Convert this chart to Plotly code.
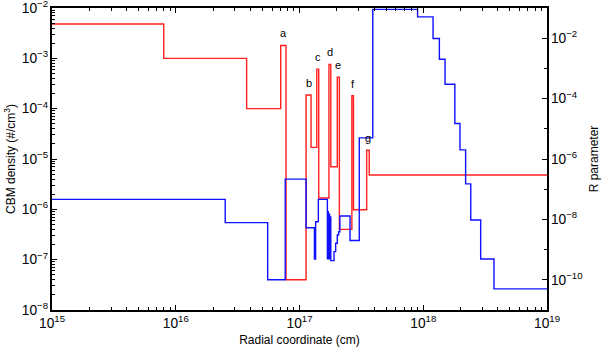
import numpy as np
import plotly.graph_objects as go

# CBM density (left axis): step edges in cm, one level per step
red_edges = [1e15, 8e15, 3.74e16, 7.05e16, 7.78e16, 1.13e17, 1.24e17, 1.38e17, 1.43e17,
             1.73e17, 1.79e17, 2.02e17, 2.10e17, 2.65e17, 2.73e17, 3.49e17, 3.66e17, 1e19]
red_levels = [4.8e-3, 1e-3, 1e-4, 1.8e-3, 4e-8, 1.87e-4, 1.7e-5, 6.1e-4, 1.68e-6,
              7.6e-4, 7.0e-6, 4.2e-4, 4.0e-7, 1.81e-4, 9.8e-7, 1.49e-5, 4.8e-6]

# R parameter (right axis)
blue_edges = [1e15, 2.51e16, 5.53e16, 7.67e16, 1.13e17, 1.32e17, 1.35e17, 1.42e17,
              1.68e17, 1.69e17, 1.71e17, 1.73e17, 1.75e17, 1.77e17, 1.79e17,
              1.90e17, 1.96e17, 2.02e17, 2.07e17, 2.12e17, 2.56e17, 3.04e17, 3.91e17,
              9.0e17, 1.2e18, 1.35e18, 1.5e18, 1.8e18, 1.98e18, 2.2e18, 2.42e18,
              2.91e18, 3.73e18, 1e19]
blue_levels = [4.6e-8, 7.8e-9, 1e-10, 2.16e-7, 5.3e-9, 4.9e-10, 8.4e-9, 4.6e-8,
               5e-10, 1.8e-8, 5e-10, 1.5e-8, 5e-10, 1.2e-8, 4.3e-10,
               8.6e-10, 1.63e-9, 3.06e-9, 3.9e-9, 1.3e-8, 2e-9, 5e-6,
               0.09, 0.051, 9.8e-3, 2e-3, 3e-4, 1.5e-5, 2e-6, 1.5e-7,
               9.6e-9, 4.9e-10, 5e-11]

# shell labels and the red step each one sits on
shell_labels = ["a", "b", "c", "d", "e", "f", "g"]
shell_steps = [3, 5, 7, 9, 11, 13, 15]

FONT = "Liberation Sans, Arial, sans-serif"

fig = go.Figure()
fig.add_trace(go.Scatter(x=red_edges, y=red_levels + [red_levels[-1]],
                         mode="lines", line=dict(color="#ff2020", width=1.4, shape="hv"),
                         showlegend=False))
fig.add_trace(go.Scatter(x=blue_edges, y=blue_levels + [blue_levels[-1]],
                         mode="lines", line=dict(color="#1010ff", width=1.4, shape="hv"),
                         yaxis="y2", showlegend=False))

for lab, i in zip(shell_labels, shell_steps):
    xm = 0.5 * (np.log10(red_edges[i]) + np.log10(red_edges[i + 1]))
    fig.add_annotation(x=xm, y=np.log10(red_levels[i]), xref="x", yref="y",
                       text=lab, showarrow=False, yanchor="bottom", yshift=4,
                       font=dict(size=11, color="black", family=FONT))

axis_common = dict(type="log", showgrid=False, zeroline=False, showline=True,
                   linecolor="black", linewidth=1.5, ticks="inside", ticklen=5,
                   tickcolor="black", tickwidth=1, exponentformat="power",
                   automargin=False, ticklabeloverflow="allow",
                   tickfont=dict(size=11, color="black", family=FONT))

fig.update_layout(
    width=605, height=349,
    margin=dict(l=52, r=58, t=8, b=39),
    paper_bgcolor="white", plot_bgcolor="white",
    font=dict(family=FONT, size=11, color="black"),
    xaxis=dict(axis_common, range=[15, 19], dtick=1, mirror="ticks",
               minor=dict(ticks="inside", ticklen=3, dtick="D1", tickcolor="black"),
               title=dict(text="Radial coordinate (cm)", standoff=6,
                          font=dict(size=12, family=FONT))),
    yaxis=dict(axis_common, range=[-8, -2], dtick=1,
               minor=dict(ticks="inside", ticklen=3, dtick="D1", tickcolor="black"),
               title=dict(text="CBM density (#/cm<sup>3</sup>)", standoff=4,
                          font=dict(size=12, family=FONT))),
    yaxis2=dict(axis_common, range=[-11, -1], dtick=2, overlaying="y", side="right",
                minor=dict(ticks="inside", ticklen=3, dtick=1, tickcolor="black"),
                title=dict(text="R parameter", standoff=8,
                           font=dict(size=12, family=FONT))),
)

# drop the page's default body margin so the figure sits at the window's corner
fig.write_html("out.html", config={"displayModeBar": False},
               post_script="document.body.style.margin='0px';")
